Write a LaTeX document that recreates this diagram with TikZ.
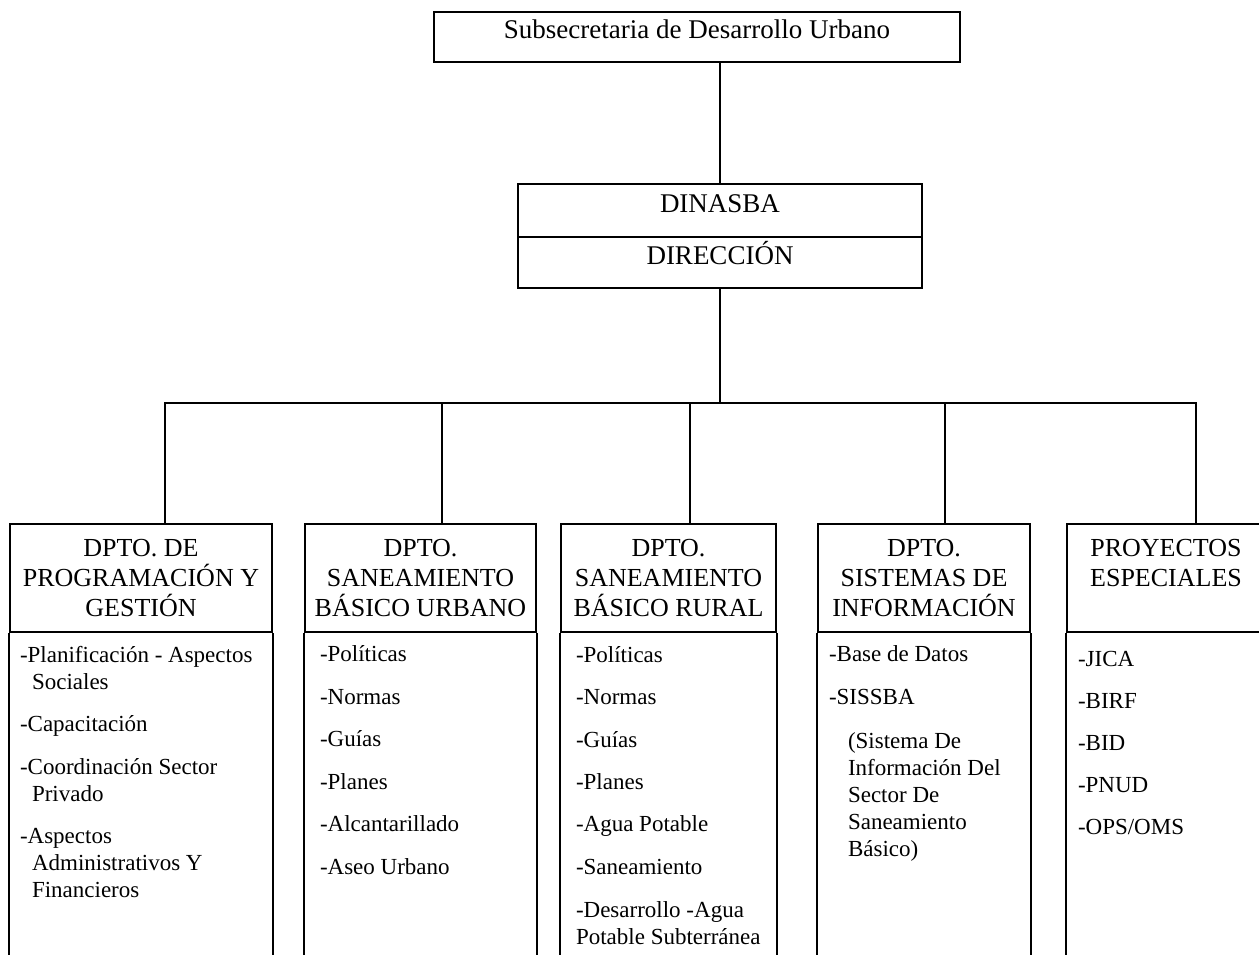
\documentclass[tikz,border=0pt]{standalone}
\usepackage{fontspec}
\setmainfont{Liberation Serif}
\usetikzlibrary{positioning}

\begin{document}
\begin{tikzpicture}[x=1pt,y=-1pt,line width=2pt,
    topbox/.style={draw,inner sep=0pt,font=\fontsize{27}{32}\selectfont,text height=20pt,text depth=16pt},
    headbox/.style={draw,inner sep=0pt,minimum height=108pt,align=center,font=\fontsize{26}{30}\selectfont},
    items/.style={inner sep=0pt,align=left,anchor=north west,font=\fontsize{23}{27}\selectfont}]
  \useasboundingbox (0,0) rectangle (1259,955);
  \clip (0,0) rectangle (1259,955);
  % top levels
  \node[topbox,minimum width=526pt,minimum height=50pt] (subsec) at (697,37) {Subsecretaria de Desarrollo Urbano};
  \node[topbox,minimum width=404pt,minimum height=53pt] (dinasba) at (720,210.5) {DINASBA};
  \node[topbox,minimum width=404pt,minimum height=51pt,below=-2pt of dinasba] (direc) {DIRECCIÓN};
  % departments
  \node[headbox,minimum width=262pt] (h1) at (141,578) {DPTO. DE\\PROGRAMACIÓN Y\\GESTIÓN};
  \node[headbox,minimum width=231pt] (h2) at (420.5,578) {DPTO.\\SANEAMIENTO\\BÁSICO URBANO};
  \node[headbox,minimum width=215pt] (h3) at (668.5,578) {DPTO.\\SANEAMIENTO\\BÁSICO RURAL};
  \node[headbox,minimum width=212pt] (h4) at (924,578) {DPTO.\\SISTEMAS DE\\INFORMACIÓN};
  \node[headbox,minimum width=198pt] (h5) at (1166,578) {PROYECTOS\\ESPECIALES\\~};
  \coordinate (bot) at (0,975);
  \draw (h1.south west) -- (h1.south west |- bot) (h1.south east) -- (h1.south east |- bot);
  \draw (h2.south west) -- (h2.south west |- bot) (h2.south east) -- (h2.south east |- bot);
  \draw (h3.south west) -- (h3.south west |- bot) (h3.south east) -- (h3.south east |- bot);
  \draw (h4.south west) -- (h4.south west |- bot) (h4.south east) -- (h4.south east |- bot);
  \draw (h5.south west) -- (h5.south west |- bot) (h5.south east) -- (h5.south east |- bot);
  % lists
  \node[items] (i1) at ([xshift=10pt,yshift=-12pt]h1.south west) {-Planificación - Aspectos\\\hspace*{12pt}Sociales\\[15.5pt]-Capacitación\\[15.5pt]-Coordinación Sector\\\hspace*{12pt}Privado\\[15.5pt]-Aspectos\\\hspace*{12pt}Administrativos Y\\\hspace*{12pt}Financieros};
  \node[items] (i2) at ([xshift=15pt,yshift=-12pt]h2.south west) {-Políticas\\[15.5pt]-Normas\\[15.5pt]-Guías\\[15.5pt]-Planes\\[15.5pt]-Alcantarillado\\[15.5pt]-Aseo Urbano};
  \node[items] (i3) at ([xshift=15pt,yshift=-12pt]h3.south west) {-Políticas\\[15.5pt]-Normas\\[15.5pt]-Guías\\[15.5pt]-Planes\\[15.5pt]-Agua Potable\\[15.5pt]-Saneamiento\\[15.5pt]-Desarrollo -Agua\\Potable Subterránea};
  \node[items] (i4) at ([xshift=11pt,yshift=-12pt]h4.south west) {-Base de Datos\\[15.5pt]-SISSBA\\[17pt]\hspace*{19pt}(Sistema De\\\hspace*{19pt}Información Del\\\hspace*{19pt}Sector De\\\hspace*{19pt}Saneamiento\\\hspace*{19pt}Básico)};
  \node[items] (i5) at ([xshift=11pt,yshift=-17pt]h5.south west) {-JICA\\[15pt]-BIRF\\[15pt]-BID\\[15pt]-PNUD\\[15pt]-OPS/OMS};
  % connectors
  \draw (subsec.south -| dinasba.north) -- (dinasba.north);
  \coordinate (bus) at (722,403);
  \draw (direc.south) -- (direc.south |- bus);
  \coordinate (d1) at (165,403);
  \coordinate (d2) at (442,403);
  \coordinate (d3) at (690,403);
  \coordinate (d4) at (945,403);
  \coordinate (d5) at (1196,403);
  \draw (d1 |- h1.north) -- (d1) -- (d5) -- (d5 |- h5.north);
  \draw (d2) -- (d2 |- h2.north);
  \draw (d3) -- (d3 |- h3.north);
  \draw (d4) -- (d4 |- h4.north);
\end{tikzpicture}
\end{document}
